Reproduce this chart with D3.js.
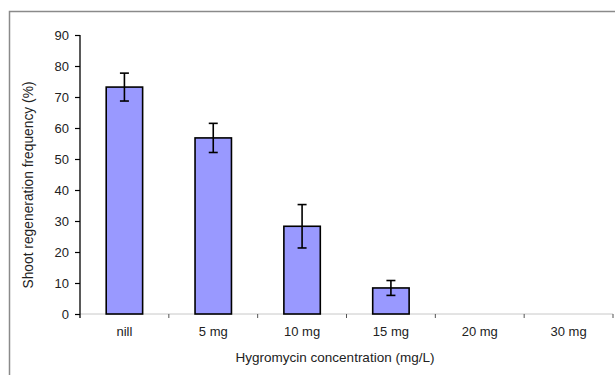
<!DOCTYPE html>
<html>
<head>
<meta charset="utf-8">
<script src="https://cdn.jsdelivr.net/npm/d3@7"></script>
<style>
  html, body { margin: 0; padding: 0; background: #fff; }
  svg { display: block; font-family: "Liberation Sans", Arial, sans-serif; }
</style>
</head>
<body>
<svg id="chart" width="615" height="375"></svg>
<script>
// Hygromycin concentration categories
const categories = ["nill", "5 mg", "10 mg", "15 mg", "20 mg", "30 mg"];
// Mean shoot regeneration frequency (%)
const means = [73.2, 56.8, 28.3, 8.4, 0, 0];
// Error (± SE) for each category
const errors = [4.5, 4.7, 7.0, 2.4, 0, 0];
// Y-axis tick values
const yTicks = [0, 10, 20, 30, 40, 50, 60, 70, 80, 90];

const svg = d3.select("#chart");
const W = 615, H = 375;
const margin = { left: 80, right: 2, top: 35, bottom: 61 };
const plotW = W - margin.left - margin.right;
const plotH = H - margin.top - margin.bottom;

// outer frame
svg.append("rect")
  .attr("x", 9.5).attr("y", 11.5)
  .attr("width", 640).attr("height", 400)
  .attr("fill", "none").attr("stroke", "#8a8a8a").attr("stroke-width", 1.5);

const g = svg.append("g").attr("transform", `translate(${margin.left},${margin.top})`);

const x = d3.scaleBand().domain(categories).range([0, plotW]).paddingInner(0.59).paddingOuter(0.295);
const xTicksScale = d3.scaleBand().domain(categories).range([0, plotW]);
const y = d3.scaleLinear().domain([0, 90]).range([plotH, 0]);

// x axis baseline (light grey)
g.append("line")
  .attr("x1", 0).attr("x2", plotW)
  .attr("y1", y(0)).attr("y2", y(0))
  .attr("stroke", "#c8c8c8").attr("stroke-width", 1);

// x category separators (tick marks)
const sepPositions = categories.map(c => xTicksScale(c)).concat([plotW]);
g.selectAll(".xsep").data(sepPositions.slice(1)).enter().append("line")
  .attr("x1", d => d).attr("x2", d => d)
  .attr("y1", y(0)).attr("y2", y(0) + 4)
  .attr("stroke", "#555").attr("stroke-width", 1);

// x labels
g.selectAll(".xlab").data(categories).enter().append("text")
  .attr("x", d => xTicksScale(d) + xTicksScale.bandwidth() / 2)
  .attr("y", y(0) + 22)
  .attr("text-anchor", "middle")
  .attr("font-size", 13)
  .attr("fill", "#222")
  .text(d => d);

// bars
g.selectAll(".bar").data(categories.map((c, i) => ({ c, v: means[i] })).filter(d => d.v > 0))
  .enter().append("rect")
  .attr("x", d => x(d.c))
  .attr("y", d => y(d.v))
  .attr("width", x.bandwidth())
  .attr("height", d => y(0) - y(d.v))
  .attr("fill", "#9999ff")
  .attr("stroke", "#000")
  .attr("stroke-width", 1.6);

// error bars
const errData = categories.map((c, i) => ({ c, v: means[i], e: errors[i] })).filter(d => d.v > 0);
const cap = 4.5;
const eg = g.selectAll(".err").data(errData).enter().append("g")
  .attr("stroke", "#000").attr("stroke-width", 1.6);
eg.append("line")
  .attr("x1", d => x(d.c) + x.bandwidth() / 2).attr("x2", d => x(d.c) + x.bandwidth() / 2)
  .attr("y1", d => y(d.v + d.e)).attr("y2", d => y(d.v - d.e));
eg.append("line")
  .attr("x1", d => x(d.c) + x.bandwidth() / 2 - cap).attr("x2", d => x(d.c) + x.bandwidth() / 2 + cap)
  .attr("y1", d => y(d.v + d.e)).attr("y2", d => y(d.v + d.e));
eg.append("line")
  .attr("x1", d => x(d.c) + x.bandwidth() / 2 - cap).attr("x2", d => x(d.c) + x.bandwidth() / 2 + cap)
  .attr("y1", d => y(d.v - d.e)).attr("y2", d => y(d.v - d.e));

// y axis
const yAxis = d3.axisLeft(y).tickValues(yTicks).tickSize(5).tickPadding(6);
const ya = g.append("g").call(yAxis);
ya.select(".domain").attr("d", `M0,${y(90)}V${y(0) + 4}`).attr("stroke", "#000").attr("stroke-width", 1.3);
ya.selectAll(".tick line").attr("stroke", "#000").attr("stroke-width", 1.2);
ya.selectAll(".tick text")
  .attr("font-size", 13).attr("fill", "#222")
  .attr("font-family", "'Liberation Sans', Arial, sans-serif");

// axis titles
svg.append("text")
  .attr("transform", `translate(33,185) rotate(-90)`)
  .attr("text-anchor", "middle")
  .attr("font-size", 13.8).attr("fill", "#222")
  .text("Shoot regeneration frequency (%)");

svg.append("text")
  .attr("x", 335).attr("y", 362)
  .attr("text-anchor", "middle")
  .attr("font-size", 13.5).attr("fill", "#222")
  .text("Hygromycin concentration (mg/L)");
</script>
</body>
</html>
